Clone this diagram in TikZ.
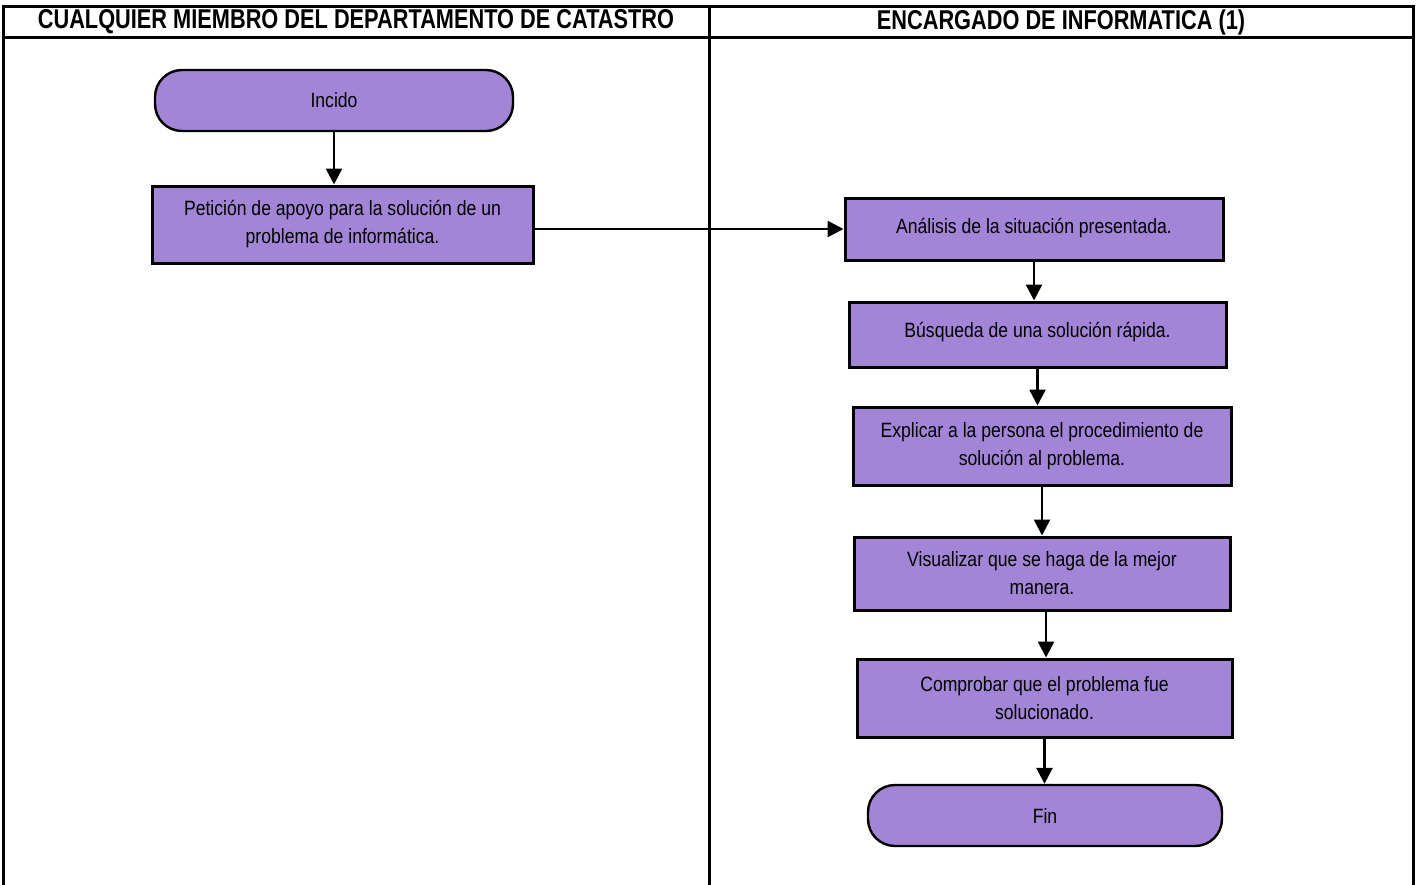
\documentclass[tikz,border=0pt]{standalone}
\usepackage{fontspec}
\setmainfont{Liberation Sans}[FakeStretch=0.85]
\newfontfamily\hdrfont{Liberation Sans}[FakeStretch=0.8]
\usetikzlibrary{arrows.meta}
\definecolor{purp}{RGB}{162,133,214}
\begin{document}
\begin{tikzpicture}[x=1pt,y=-1pt,
  lane/.style={line width=3pt, line cap=rect},
  hdr/.style={font=\hdrfont\fontsize{27.2}{30}\selectfont\bfseries, inner sep=0},
  proc/.style={draw, line width=3pt, fill=purp, inner sep=0, align=center,
    font=\fontsize{20.7}{28}\selectfont},
  term/.style={proc, rounded corners=27pt, line width=2.4pt},
  arr/.style={line width=2.6pt, -{Triangle[width=16pt,length=16pt]}}]
\useasboundingbox (0,0) rectangle (1418,884);
% swimlane table
\draw[lane] (3,6) -- (1413,6);
\draw[lane] (3,37) -- (1413,37);
\draw[lane] (3,6) -- (3,884);
\draw[lane] (709,6) -- (709,884);
\draw[lane] (1413,6) -- (1413,884);
\node[hdr] (h1) at (356,22) {CUALQUIER MIEMBRO DEL DEPARTAMENTO DE CATASTRO};
\node[hdr] (h2) at (1061,22) {ENCARGADO DE INFORMATICA (1)};
% nodes
\node[term, minimum width=358pt, minimum height=61pt] (inc) at (334,100.5) {Incido};
\node[proc, minimum width=381pt, minimum height=77pt] (pet) at (342.5,224.5)
  {Petición de apoyo para la solución de un\\problema de informática.};
\node[proc, minimum width=378pt, minimum height=62pt] (ana) at (1034,229)
  {\raisebox{7pt}{Análisis de la situación presentada.}};
\node[proc, minimum width=377pt, minimum height=65pt] (bus) at (1037.5,334.5)
  {\raisebox{9pt}{Búsqueda de una solución rápida.}};
\node[proc, minimum width=378pt, minimum height=78pt] (exp) at (1042,446)
  {Explicar a la persona el procedimiento de\\solución al problema.};
\node[proc, minimum width=376pt, minimum height=73pt] (vis) at (1042,573.5)
  {Visualizar que se haga de la mejor\\manera.};
\node[proc, minimum width=375pt, minimum height=78pt] (com) at (1044.5,698)
  {Comprobar que el problema fue\\solucionado.};
\node[term, minimum width=354pt, minimum height=61pt] (fin) at (1045,815.5) {Fin};
% connectors
\draw[arr] (inc.south) -- (inc.south |- pet.north);
\draw[arr] (pet.east |- ana.west) -- (ana.west);
\draw[arr] (ana.south) -- (ana.south |- bus.north);
\draw[arr] (bus.south) -- (bus.south |- exp.north);
\draw[arr] (exp.south) -- (exp.south |- vis.north);
\draw[arr] ([xshift=4pt]vis.south) -- ([xshift=4pt]vis.south |- com.north);
\draw[arr] (com.south) -- (com.south |- fin.north);
\end{tikzpicture}
\end{document}
